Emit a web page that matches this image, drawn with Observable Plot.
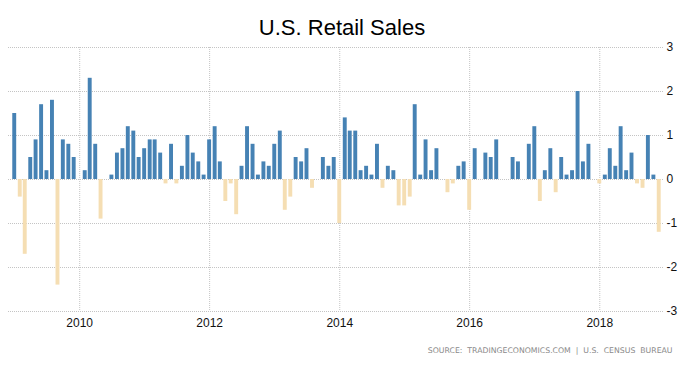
<!DOCTYPE html>
<html><head><meta charset="utf-8">
<script src="https://cdn.jsdelivr.net/npm/d3@7"></script>
<script src="https://cdn.jsdelivr.net/npm/@observablehq/plot@0.6"></script>
<style>body{margin:0;background:#fff;} svg{display:block;}</style>
</head><body><div id="chart"></div>
<script>
const title = "U.S. Retail Sales";
const source = "SOURCE:  TRADINGECONOMICS.COM  |  U.S.  CENSUS  BUREAU";
const firstMonth = "2009-01-01";
// monthly % change, Jan 2009 .. Dec 2018
const changes2009 = [1.5, -0.4, -1.7, 0.5, 0.9, 1.7, 0.2, 1.8, -2.4, 0.9, 0.8, 0.5];
const changes2010 = [0, 0.2, 2.3, 0.8, -0.9, 0, 0.1, 0.6, 0.7, 1.2, 1.1, 0.5];
const changes2011 = [0.7, 0.9, 0.9, 0.6, -0.1, 0.8, -0.1, 0.3, 1.0, 0.6, 0.4, 0.1];
const changes2012 = [0.9, 1.2, 0.4, -0.5, -0.1, -0.8, 0.3, 1.2, 0.8, 0.1, 0.4, 0.3];
const changes2013 = [0.8, 1.1, -0.7, -0.4, 0.5, 0.4, 0.7, -0.2, 0, 0.5, 0.3, 0.5];
const changes2014 = [-1.0, 1.4, 1.1, 1.1, 0.2, 0.3, 0.1, 0.8, -0.2, 0.3, 0.2, -0.6];
const changes2015 = [-0.6, -0.4, 1.7, 0.1, 0.9, 0.2, 0.7, 0, -0.3, -0.1, 0.3, 0.4];
const changes2016 = [-0.7, 0.7, 0, 0.6, 0.5, 0.9, 0, 0, 0.5, 0.4, 0, 0.8];
const changes2017 = [1.2, -0.5, 0.2, 0.7, -0.3, 0.5, 0.1, 0.2, 2.0, 0.4, 0.8, 0];
const changes2018 = [-0.1, 0.1, 0.7, 0.3, 1.2, 0.2, 0.6, -0.1, -0.2, 1.0, 0.1, -1.2];
const xTickYears = [2010, 2012, 2014, 2016, 2018];
const yTicks = [-3, -2, -1, 0, 1, 2, 3];

const changes = [].concat(changes2009, changes2010, changes2011, changes2012, changes2013,
  changes2014, changes2015, changes2016, changes2017, changes2018);
const start = new Date(firstMonth + "T00:00:00Z");
const data = changes.map((v, i) => ({date: d3.utcMonth.offset(start, i), value: v}));
const xTicks = xTickYears.map(y => new Date(Date.UTC(y, 0, 1)));

const barOpts = {
  x1: d => d3.utcDay.offset(d.date, -11),
  x2: d => d3.utcDay.offset(d.date, 11),
  y1: 0, y2: "value"
};

const chart = Plot.plot({
  width: 691, height: 367,
  marginTop: 47, marginBottom: 56, marginLeft: 8, marginRight: 28,
  style: {fontFamily: "'Liberation Sans', Arial, sans-serif", fontSize: "12px", color: "#111", background: "#fff"},
  x: {type: "utc", domain: [new Date("2008-11-27T00:00:00Z"), new Date("2018-12-25T00:00:00Z")]},
  y: {domain: [-3, 3]},
  marks: [
    Plot.gridY(yTicks, {stroke: "#c4c4c4", strokeOpacity: 1, strokeDasharray: "1,1"}),
    Plot.gridX(xTicks, {stroke: "#c4c4c4", strokeOpacity: 1, strokeDasharray: "1,1"}),
    Plot.rectY(data.filter(d => d.value >= 0), {...barOpts, fill: "#4682b4"}),
    Plot.rectY(data.filter(d => d.value < 0), {...barOpts, fill: "#f5deb3"}),
    Plot.axisY(yTicks, {anchor: "right", label: null, tickSize: 0, tickPadding: 3, fill: "#111",
      tickFormat: d => d < 0 ? "-" + Math.abs(d) : String(d)}),
    Plot.axisX(xTicks, {anchor: "bottom", label: null, tickSize: 0, tickPadding: 7, fill: "#111", tickFormat: d3.utcFormat("%Y")}),
    Plot.text([title], {text: d => d, frameAnchor: "top", dx: 6, dy: -28, fontSize: 22, fill: "#000"}),
    Plot.text([source], {text: d => d, frameAnchor: "bottom-right", textAnchor: "end", dx: 9, dy: 41,
      fontSize: 7.75, fill: "#8a8a8a", fontFamily: "'DejaVu Sans', sans-serif"})
  ]
});
document.getElementById("chart").appendChild(chart);
</script>
</body></html>
